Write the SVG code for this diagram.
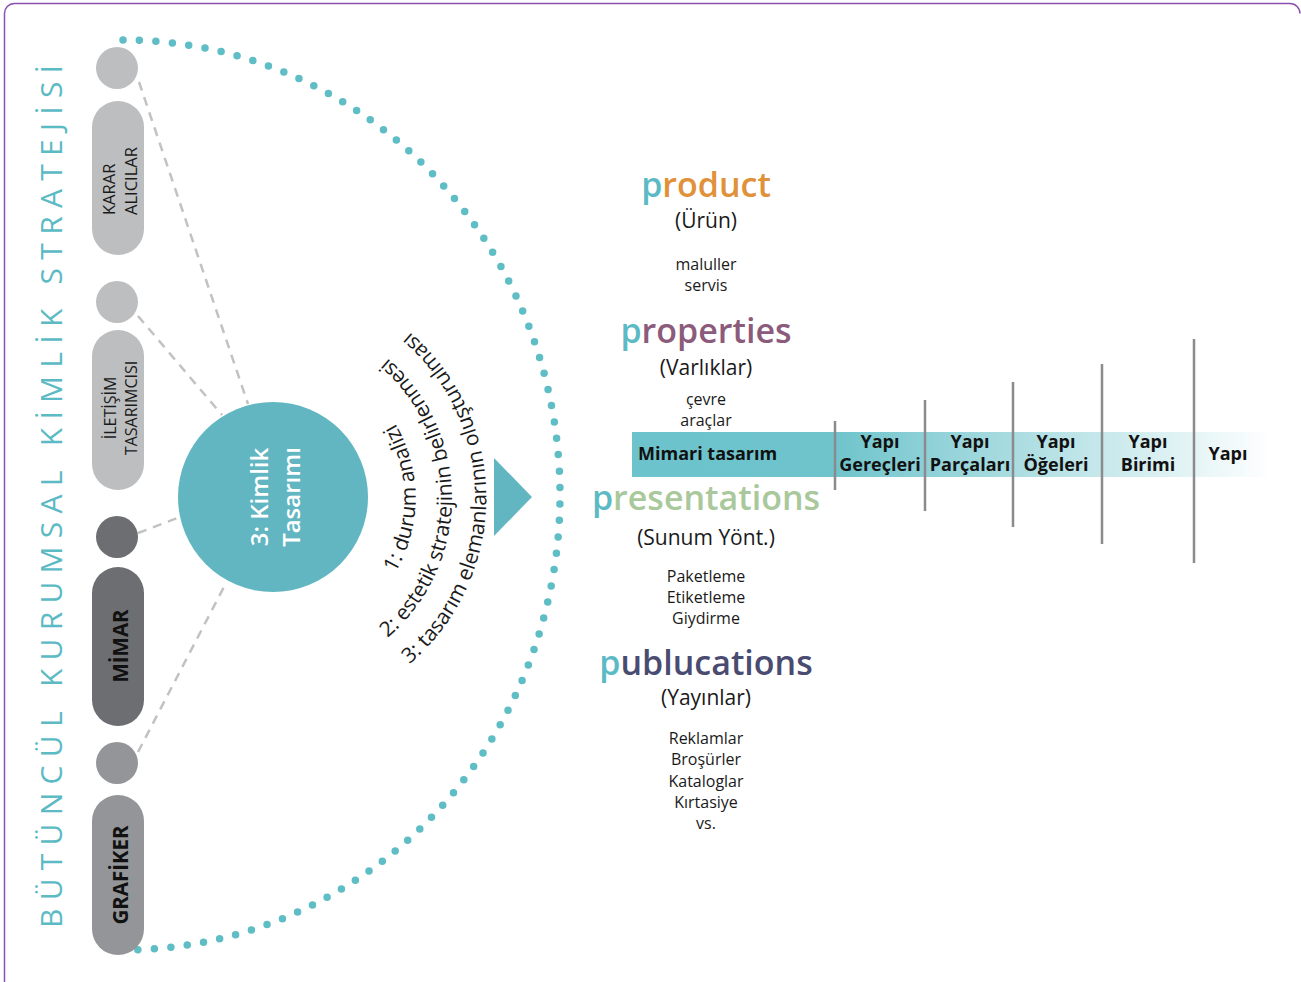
<svg xmlns="http://www.w3.org/2000/svg" xmlns:xlink="http://www.w3.org/1999/xlink" width="1301" height="982" viewBox="0 0 1301 982">
<style>
.f{font-family:"Open Sans","Liberation Sans",sans-serif}
.blk{fill:#1a1a1a}
.dash{stroke:#c2c2c2;stroke-width:2.5;stroke-dasharray:9 7;fill:none}
.vl{stroke:#8b8b8e;stroke-width:2.5}
.big{font-family:"Open Sans","Liberation Sans",sans-serif;font-weight:600;font-size:34px;text-anchor:middle}
.sub{font-family:"Open Sans","Liberation Sans",sans-serif;font-size:21px;text-anchor:middle;fill:#1a1a1a}
.sm{font-family:"Open Sans","Liberation Sans",sans-serif;font-size:16px;text-anchor:middle;fill:#1a1a1a}
.bar{font-family:"Open Sans","Liberation Sans",sans-serif;font-weight:700;font-size:18px;fill:#111;text-anchor:middle}
.arc{font-family:"Open Sans","Liberation Sans",sans-serif;font-size:21px;fill:#1a1a1a}
.tp{fill:#5bbac4}
</style>
<defs>
<linearGradient id="barg" gradientUnits="userSpaceOnUse" x1="632" y1="0" x2="1272" y2="0">
<stop offset="0" stop-color="#6cc3cb"/>
<stop offset="0.317" stop-color="#6fc4cc"/>
<stop offset="1" stop-color="#ffffff"/>
</linearGradient>
<path id="a1" d="M280.9,645.4 A148,148 0 0 0 280.9,350.6"/>
<path id="a2" d="M284,681.3 A184,184 0 0 0 284,314.7"/>
<path id="a3" d="M287,715.2 A218,218 0 0 0 287,280.8"/>
</defs>
<rect width="1301" height="982" fill="#fff"/>
<path d="M4.5,982 V14 A10,10 0 0 1 14.5,3.5 H1290 A10,10 0 0 1 1300,13.5" fill="none" stroke="#8a50b0" stroke-width="1.5"/>

<g id="title">
<text class="f" transform="translate(62,928) rotate(-90)" font-size="30" fill="#5bbac4" textLength="863" lengthAdjust="spacing">BÜTÜNCÜL KURUMSAL KİMLİK STRATEJİSİ</text>
</g>

<g id="connectors">
<path d="M123,40 A437,455 0 0 1 123,950" fill="none" stroke="#5fbdc6" stroke-width="7.5" stroke-linecap="round" stroke-dasharray="0 16.5"/>
<line class="dash" x1="139" y1="82" x2="248" y2="404"/>
<line class="dash" x1="138" y1="316" x2="222" y2="415"/>
<line class="dash" x1="138" y1="533" x2="180" y2="517"/>
<line class="dash" x1="138" y1="752" x2="225" y2="585"/>
</g>

<g id="karar">
<circle cx="117" cy="68" r="21" fill="#bdbec0"/>
<rect x="92" y="101" width="52" height="154" rx="26" fill="#bdbec0"/>
<text class="f blk" transform="translate(115,215) rotate(-90)" font-size="16.5">KARAR</text>
<text class="f blk" transform="translate(137,215) rotate(-90)" font-size="16.5">ALICILAR</text>
</g>

<g id="iletisim">
<circle cx="117" cy="302" r="21" fill="#bdbec0"/>
<rect x="92" y="330" width="52" height="160" rx="26" fill="#bdbec0"/>
<text class="f blk" transform="translate(116,408) rotate(-90)" font-size="16" text-anchor="middle">İLETİŞİM</text>
<text class="f blk" transform="translate(137,408) rotate(-90)" font-size="16" text-anchor="middle">TASARIMCISI</text>
</g>

<g id="mimar">
<circle cx="117" cy="537" r="21" fill="#6d6e71"/>
<rect x="92" y="567" width="52" height="159" rx="26" fill="#6d6e71"/>
<text class="f" transform="translate(128,646) rotate(-90)" font-size="20.5" font-weight="700" fill="#111" text-anchor="middle">MİMAR</text>
</g>

<g id="grafiker">
<circle cx="117" cy="763" r="21" fill="#939598"/>
<rect x="92" y="795" width="52" height="160" rx="26" fill="#939598"/>
<text class="f" transform="translate(128,875) rotate(-90)" font-size="20.5" font-weight="700" fill="#111" text-anchor="middle">GRAFİKER</text>
</g>

<g id="kimlik">
<circle cx="273" cy="497" r="95" fill="#62b6c1"/>
<text class="f" transform="translate(268,497) rotate(-90)" font-size="24" font-weight="600" fill="#fff" text-anchor="middle">3: Kimlik</text>
<text class="f" transform="translate(300,497) rotate(-90)" font-size="24" font-weight="600" fill="#fff" text-anchor="middle">Tasarımı</text>
</g>

<g id="steps">
<text class="arc"><textPath xlink:href="#a1" href="#a1" startOffset="50%" text-anchor="middle">1: durum analizi</textPath></text>
<text class="arc"><textPath xlink:href="#a2" href="#a2" startOffset="50%" text-anchor="middle">2: estetik stratejinin belirlenmesi</textPath></text>
<text class="arc"><textPath xlink:href="#a3" href="#a3" startOffset="50%" text-anchor="middle">3: tasarım elemanlarının oluşturulması</textPath></text>
</g>

<g id="arrow">
<polygon points="494,458 494,536 532,497" fill="#62b6c1"/>
</g>

<g id="product">
<text class="big" x="706" y="197"><tspan class="tp">p</tspan><tspan fill="#e0913a">roduct</tspan></text>
<text class="sub" x="706" y="228">(Ürün)</text>
<text class="sm" x="706" y="270">maluller</text>
<text class="sm" x="706" y="291">servis</text>
</g>

<g id="properties">
<text class="big" x="706" y="343"><tspan class="tp">p</tspan><tspan fill="#8c5b7b">roperties</tspan></text>
<text class="sub" x="706" y="375">(Varlıklar)</text>
<text class="sm" x="706" y="405">çevre</text>
<text class="sm" x="706" y="426">araçlar</text>
</g>

<g id="bar">
<rect x="632" y="432" width="640" height="45" fill="url(#barg)"/>
<text class="bar" x="638" y="460" style="text-anchor:start">Mimari tasarım</text>
<text class="bar" x="880" y="448">Yapı</text>
<text class="bar" x="880" y="471">Gereçleri</text>
<text class="bar" x="970" y="448">Yapı</text>
<text class="bar" x="970" y="471">Parçaları</text>
<text class="bar" x="1056" y="448">Yapı</text>
<text class="bar" x="1056" y="471">Öğeleri</text>
<text class="bar" x="1148" y="448">Yapı</text>
<text class="bar" x="1148" y="471">Birimi</text>
<text class="bar" x="1228" y="460">Yapı</text>
<line class="vl" x1="835" y1="421" x2="835" y2="490"/>
<line class="vl" x1="925" y1="400" x2="925" y2="511"/>
<line class="vl" x1="1013" y1="382" x2="1013" y2="527"/>
<line class="vl" x1="1102" y1="364" x2="1102" y2="544"/>
<line class="vl" x1="1194" y1="339" x2="1194" y2="563"/>
</g>

<g id="presentations">
<text class="big" x="706" y="510"><tspan class="tp">p</tspan><tspan fill="#a9c89b">resentations</tspan></text>
<text class="sub" x="706" y="545">(Sunum Yönt.)</text>
<text class="sm" x="706" y="582">Paketleme</text>
<text class="sm" x="706" y="603">Etiketleme</text>
<text class="sm" x="706" y="624">Giydirme</text>
</g>

<g id="publucations">
<text class="big" x="706" y="675"><tspan class="tp">p</tspan><tspan fill="#4a4b70">ublucations</tspan></text>
<text class="sub" x="706" y="705">(Yayınlar)</text>
<text class="sm" x="706" y="744">Reklamlar</text>
<text class="sm" x="706" y="765">Broşürler</text>
<text class="sm" x="706" y="787">Kataloglar</text>
<text class="sm" x="706" y="808">Kırtasiye</text>
<text class="sm" x="706" y="829">vs.</text>
</g>
</svg>
